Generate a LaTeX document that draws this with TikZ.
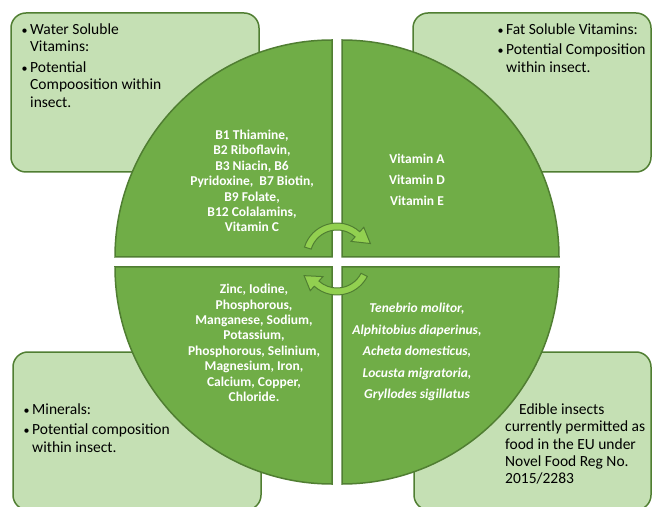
\documentclass[tikz,border=0pt]{standalone}
\usepackage{fontspec}
\setmainfont{Carlito}
\definecolor{boxfill}{HTML}{C5E0B4}
\definecolor{darkline}{HTML}{507E32}
\definecolor{quadfill}{HTML}{70AD47}
\definecolor{turnfill}{HTML}{92D050}
\newcommand{\dotitem}{\llap{{\fontsize{12}{12}\selectfont\textbullet}\kern2.5pt}}
\begin{document}
\begin{tikzpicture}[x=1pt,y=1pt,
  infobox/.style={draw=darkline, line width=1.5pt, fill=boxfill, rounded corners=15pt, inner sep=0pt},
  quad/.style={draw=darkline, line width=1.5pt, fill=quadfill},
  turn/.style={draw=darkline, line width=1pt, fill=turnfill},
  note/.style={inner sep=0pt, anchor=north west, align=left, font=\fontsize{15.5}{17.4}\selectfont},
  list/.style={inner sep=0pt, align=center, text=white, font=\fontsize{13.5}{15.4}\selectfont\bfseries},
  widelist/.style={inner sep=0pt, align=center, text=white, font=\fontsize{13.5}{21}\selectfont\bfseries}]
\useasboundingbox (0,0) rectangle (652,506);
\clip (0,0) rectangle (652,506);

\node[infobox, minimum width=248pt, minimum height=159pt] (wsbox) at (135,413.5) {};
\node[infobox, minimum width=238pt, minimum height=159pt] (fsbox) at (532,413.5) {};
\node[infobox, minimum width=248pt, minimum height=158pt] (minbox) at (137,75) {};
\node[infobox, minimum width=237pt, minimum height=158pt] (eubox) at (532.5,75) {};

\draw[quad] (332,249) -- (115,249) arc (180:90:217) -- cycle;
\draw[quad] (342,249) -- (342,466) arc (90:0:217) -- cycle;
\draw[quad] (332,239) -- (332,22) arc (270:180:217) -- cycle;
\draw[quad] (342,239) -- (559,239) arc (0:-90:217) -- cycle;

\draw[turn] ([shift={(337,249)}]163:27) arc (163:48:27) -- ([shift={(337,249)}]48:21)
  -- ([shift={(337,249)}]22:36) -- ([shift={(337,249)}]48:40) -- ([shift={(337,249)}]48:34)
  arc (48:163:34) -- cycle;
\draw[turn] ([shift={(337,245)}]-27:27) arc (-27:-132:27) -- ([shift={(337,245)}]-132:21)
  -- ([shift={(337,245)}]-156:36) -- ([shift={(337,245)}]-132:40) -- ([shift={(337,245)}]-132:34)
  arc (-132:-27:34) -- cycle;

\node[list] (wslist) at (252,325) {B1 Thiamine,\\B2 Riboflavin,\\B3 Niacin, B6\\Pyridoxine,\ \ B7 Biotin,\\B9 Folate,\\B12 Colalamins,\\Vitamin C};
\node[widelist] (fslist) at (417,326) {Vitamin A\\Vitamin D\\Vitamin E};
\node[list] (minlist) at (254,163) {Zinc, Iodine,\\Phosphorous,\\Manganese, Sodium,\\Potassium,\\Phosphorous, Selinium,\\Magnesium, Iron,\\Calcium, Copper,\\Chloride.};
\node[widelist, font=\fontsize{13.5}{21.5}\selectfont\bfseries\itshape] (insectlist) at (417,154) {Tenebrio molitor,\\Alphitobius diaperinus,\\Acheta domesticus,\\Locusta migratoria,\\Gryllodes sigillatus};

\node[note] (wsnote) at (30,482.7) {\dotitem Water Soluble\\Vitamins:\\[3.5pt]\dotitem Potential\\Compoosition within\\insect.};
\node[note] (fsnote) at (506,482.7) {\dotitem Fat Soluble Vitamins:\\[3pt]\dotitem Potential Composition\\within insect.};
\node[note] (minnote) at (32,102.7) {\dotitem Minerals:\\[3pt]\dotitem Potential composition\\within insect.};
\node[note] (eunote) at (505,102.7) {\hspace*{14pt}Edible insects\\currently permitted as\\food in the EU under\\Novel Food Reg No.\\2015/2283};
\end{tikzpicture}
\end{document}
